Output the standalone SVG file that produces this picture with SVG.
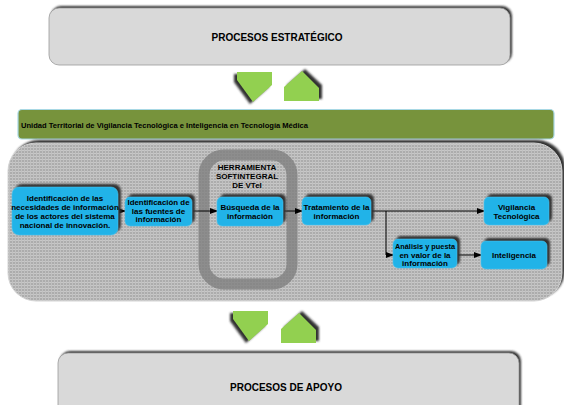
<svg xmlns="http://www.w3.org/2000/svg" width="564" height="405" viewBox="0 0 564 405">
<defs>
<filter id="blur" x="-10%" y="-10%" width="120%" height="120%"><feGaussianBlur stdDeviation="0.8"/></filter>
<pattern id="grid" width="3" height="3" patternUnits="userSpaceOnUse">
<rect width="3" height="3" fill="#acacac"/>
<rect width="3" height="1" fill="#c8c8c8"/>
<rect width="1" height="3" fill="#c0c0c0"/>
</pattern>
<marker id="arr" markerWidth="8" markerHeight="6" refX="7" refY="3" orient="auto" markerUnits="userSpaceOnUse">
<path d="M0,0 L8,3 L0,6 Z" fill="#000"/>
</marker>
<style>
.shadow{fill:#333;filter:url(#blur)}
.node{fill:#21b3e8;stroke:#4cc4ee;stroke-width:0.6}
.t{font-family:"Liberation Sans",Arial,sans-serif;font-weight:bold;fill:#000;text-anchor:middle}
.nt{font-size:8px}
.big{font-size:10px}
.proc{fill:#d9d9d9;stroke:#9a9a9a;stroke-width:0.8}
.green{fill:#92d050}
.conn{stroke:#000;stroke-width:1;fill:none}
</style>
</defs>

<g id="procesos-estrategico">
<rect class="shadow" x="51" y="6" width="461" height="57" rx="10"/>
<rect class="proc" x="49" y="8" width="461" height="57" rx="10"/>
<text class="t big" x="277" y="40.5">PROCESOS ESTRATÉGICO</text>
</g>

<g id="flechas-superiores">
<polygon class="shadow" points="234,74 269,74 269,87 250,104 234,82"/>
<polygon class="green" points="237,72 272,72 272,85 253,102 237,80"/>
<polygon class="shadow" points="287,99 287,85 305,69 322,85 322,99"/>
<polygon class="green" points="284,101 284,87 302,71 319,88 319,101"/>
</g>

<g id="unidad-territorial">
<rect x="18" y="109.5" width="536" height="29.5" rx="4" fill="#77933c" stroke="#a8d8e4" stroke-width="1.2"/>
<text x="21" y="128" font-family="'Liberation Sans',Arial,sans-serif" font-weight="bold" font-size="7" fill="#000" textLength="287" lengthAdjust="spacingAndGlyphs">Unidad Territorial de Vigilancia  Tecnológica e Inteligencia en Tecnología Médica</text>
</g>

<g id="panel">
<rect class="shadow" x="11" y="140" width="554" height="158" rx="28"/>
<rect x="8" y="143" width="554" height="158" rx="28" fill="url(#grid)" stroke="#d4d4d4" stroke-width="1"/>
</g>

<g id="herramienta">
<rect x="204" y="155" width="88" height="129" rx="20" fill="none" stroke="#808080" stroke-width="11" opacity="0.8"/>
<text class="t nt" x="247" y="170">HERRAMIENTA</text>
<text class="t nt" x="247" y="179">SOFTINTEGRAL</text>
<text class="t nt" x="247" y="188">DE VTeI</text>
</g>

<g id="connectors">
<line class="conn" x1="118" y1="211" x2="125" y2="211" marker-end="url(#arr)"/>
<line class="conn" x1="192" y1="211" x2="217" y2="211" marker-end="url(#arr)"/>
<line class="conn" x1="283" y1="211" x2="302" y2="211" marker-end="url(#arr)"/>
<line class="conn" x1="371" y1="211" x2="484" y2="211" marker-end="url(#arr)"/>
<polyline class="conn" points="386,211 386,255 393,255" marker-end="url(#arr)"/>
<line class="conn" x1="457" y1="255" x2="481" y2="255" marker-end="url(#arr)"/>
</g>

<g id="n1">
<rect class="shadow" x="15" y="184" width="106" height="48" rx="7"/>
<rect class="node" x="12" y="187" width="106" height="48" rx="7"/>
<text class="t nt" x="65" y="201">Identificación de las</text>
<text class="t nt" x="65" y="210">necesidades de información</text>
<text class="t nt" x="65" y="219">de los actores del sistema</text>
<text class="t nt" x="65" y="228">nacional de innovación.</text>
</g>

<g id="n2">
<rect class="shadow" x="128" y="194" width="67" height="29" rx="5"/>
<rect class="node" x="125" y="197" width="67" height="29" rx="5"/>
<text class="t nt" x="158.5" y="205" textLength="62" lengthAdjust="spacingAndGlyphs">Identificación de</text>
<text class="t nt" x="158.5" y="213.5">las fuentes de</text>
<text class="t nt" x="158.5" y="222">información</text>
</g>

<g id="n3">
<rect class="shadow" x="220" y="194" width="66" height="29" rx="5"/>
<rect class="node" x="217" y="197" width="66" height="29" rx="5"/>
<text class="t nt" x="250" y="210">Búsqueda de la</text>
<text class="t nt" x="250" y="218.5">información</text>
</g>

<g id="n4">
<rect class="shadow" x="305" y="194" width="69" height="28" rx="5"/>
<rect class="node" x="302" y="197" width="69" height="28" rx="5"/>
<text class="t nt" x="336.5" y="210">Tratamiento de la</text>
<text class="t nt" x="336.5" y="218.5">información</text>
</g>

<g id="n5">
<rect class="shadow" x="487" y="194" width="65" height="28" rx="5"/>
<rect class="node" x="484" y="197" width="65" height="28" rx="5"/>
<text class="t nt" x="516.5" y="210">Vigilancia</text>
<text class="t nt" x="516.5" y="218.5">Tecnológica</text>
</g>

<g id="n6">
<rect class="shadow" x="396" y="236" width="64" height="29" rx="5"/>
<rect class="node" x="393" y="239" width="64" height="29" rx="5"/>
<text class="t nt" x="425" y="249" textLength="60" lengthAdjust="spacingAndGlyphs">Análisis y puesta</text>
<text class="t nt" x="425" y="257.5">en valor de la</text>
<text class="t nt" x="425" y="266">información</text>
</g>

<g id="n7">
<rect class="shadow" x="484" y="238" width="66" height="28" rx="5"/>
<rect class="node" x="481" y="241" width="66" height="28" rx="5"/>
<text class="t nt" x="514" y="258">Inteligencia</text>
</g>

<g id="flechas-inferiores">
<polygon class="shadow" points="230,313 265,313 265,326 246,343 230,321"/>
<polygon class="green" points="233,311 268,311 268,324 249,341 233,319"/>
<polygon class="shadow" points="284,341 284,327 302,311 319,327 319,341"/>
<polygon class="green" points="281,343 281,329 299,313 316,330 316,343"/>
</g>

<g id="procesos-apoyo">
<rect class="shadow" x="60" y="351" width="461" height="70" rx="10"/>
<rect class="proc" x="58" y="353" width="461" height="70" rx="10"/>
<text class="t big" x="286" y="390.5">PROCESOS DE APOYO</text>
</g>
</svg>
